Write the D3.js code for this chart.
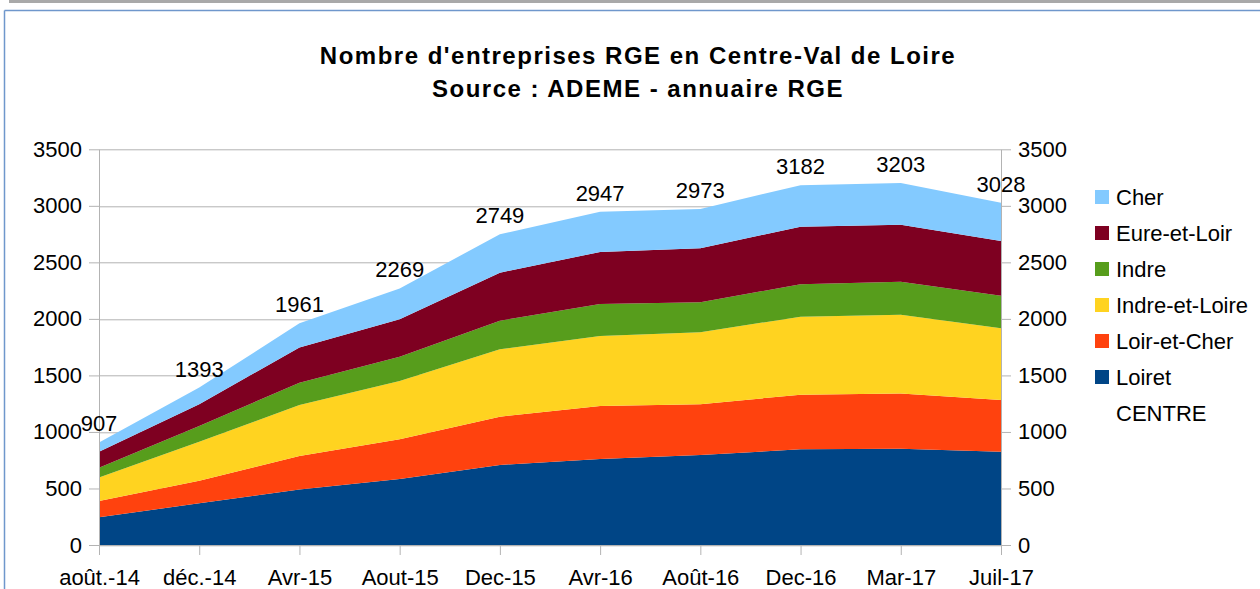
<!DOCTYPE html>
<html lang="fr">
<head>
<meta charset="UTF-8">
<title>Nombre d'entreprises RGE en Centre-Val de Loire</title>
<script src="https://d3js.org/d3.v7.min.js"></script>
<style>
  body { margin: 0; background: #fff; }
  svg text { font-family: "Liberation Sans", Arial, sans-serif; fill: #000; }
</style>
</head>
<body>
<div id="chart"></div>
<script>
// periods on the x axis
const months = ["août.-14", "déc.-14", "Avr-15", "Aout-15", "Dec-15", "Avr-16", "Août-16", "Dec-16", "Mar-17", "Juil-17"];

// companies per department
const loiret       = [245, 369, 492, 584, 708, 761, 796, 846, 852, 825];
const loirEtCher   = [144, 200, 295, 351, 427, 468, 448, 484, 489, 458];
const indreEtLoire = [207, 345, 451, 516, 596, 620, 637, 690, 696, 634];
const indre        = [88, 139, 198, 215, 253, 283, 266, 286, 292, 288];
const eureEtLoir   = [141, 191, 312, 330, 425, 460, 477, 510, 504, 484];
const cher         = [82, 149, 213, 273, 340, 355, 349, 366, 370, 339];
// regional total, shown only as labels
const centre       = [907, 1393, 1961, 2269, 2749, 2947, 2973, 3182, 3203, 3028];

const yTicks = [0, 500, 1000, 1500, 2000, 2500, 3000, 3500];

// stacked bottom to top
const series = [
  { name: "Loiret", values: loiret, color: "#004586" },
  { name: "Loir-et-Cher", values: loirEtCher, color: "#ff420e" },
  { name: "Indre-et-Loire", values: indreEtLoire, color: "#ffd320" },
  { name: "Indre", values: indre, color: "#579d1c" },
  { name: "Eure-et-Loir", values: eureEtLoir, color: "#7e0021" },
  { name: "Cher", values: cher, color: "#83caff" }
];

const W = 1260, H = 589;
const margin = { top: 149.3, right: 259, bottom: 44, left: 99 };
const width = W - margin.left - margin.right;
const height = H - margin.top - margin.bottom;

const svg = d3.select("#chart").append("svg")
  .attr("width", W)
  .attr("height", H);

// window frame bits
svg.append("rect").attr("x", 9).attr("y", 0).attr("width", W - 9).attr("height", 3).attr("fill", "#a9a9a9");
svg.append("line").attr("x1", 4.5).attr("x2", W).attr("y1", 10.5).attr("y2", 10.5).attr("stroke", "#6f97cc").attr("stroke-width", 1.5);
svg.append("line").attr("x1", 4.5).attr("x2", 4.5).attr("y1", 10.5).attr("y2", H).attr("stroke", "#6f97cc").attr("stroke-width", 1.5);

// title
svg.append("text").attr("x", 638).attr("y", 63.5).attr("text-anchor", "middle")
  .style("font-size", "24px").style("font-weight", "bold").style("letter-spacing", "1.5px")
  .text("Nombre d'entreprises RGE en Centre-Val de Loire");
svg.append("text").attr("x", 638).attr("y", 97).attr("text-anchor", "middle")
  .style("font-size", "24px").style("font-weight", "bold").style("letter-spacing", "1.5px")
  .text("Source : ADEME - annuaire RGE");

const g = svg.append("g").attr("transform", `translate(${margin.left},${margin.top})`);

const x = d3.scalePoint().domain(months).range([0, width]);
const y = d3.scaleLinear().domain([0, 3500]).range([height, 0]);

// grid
g.append("g").selectAll("line").data(yTicks).join("line")
  .attr("x1", 0).attr("x2", width)
  .attr("y1", d => Math.round(y(d)) + 0.5).attr("y2", d => Math.round(y(d)) + 0.5)
  .attr("stroke", "#b3b3b3");

// stack
const table = months.map((m, i) => {
  const row = { month: m };
  series.forEach(s => row[s.name] = s.values[i]);
  return row;
});
const stacked = d3.stack().keys(series.map(s => s.name))(table);

const area = d3.area()
  .x(d => x(d.data.month))
  .y0(d => y(d[0]))
  .y1(d => y(d[1]));

g.append("g").selectAll("path").data(stacked).join("path")
  .attr("fill", (d, i) => series[i].color)
  .attr("d", area);

// axes
function styleAxis(sel) {
  sel.select(".domain").attr("stroke", "#b3b3b3");
  sel.selectAll(".tick line").attr("stroke", "#b3b3b3");
  sel.selectAll(".tick text").style("font-size", "22px").attr("fill", "#000");
}

g.append("g")
  .call(d3.axisLeft(y).tickValues(yTicks).tickFormat(d3.format("d")).tickSize(10).tickSizeOuter(0).tickPadding(7))
  .call(styleAxis);

g.append("g").attr("transform", `translate(${width},0)`)
  .call(d3.axisRight(y).tickValues(yTicks).tickFormat(d3.format("d")).tickSize(10).tickSizeOuter(0).tickPadding(7))
  .call(styleAxis);

g.append("g").attr("transform", `translate(0,${height})`)
  .call(d3.axisBottom(x).tickSize(10).tickSizeOuter(0).tickPadding(14))
  .call(styleAxis);

// total labels
g.append("g").selectAll("text").data(centre).join("text")
  .attr("x", (d, i) => x(months[i]))
  .attr("y", d => y(d) - 11)
  .attr("text-anchor", "middle")
  .style("font-size", "22px")
  .text(d => d);

// legend
const legendItems = series.slice().reverse().concat([{ name: "CENTRE", color: null }]);
const legend = svg.append("g").attr("transform", "translate(1095,197)");
legendItems.forEach((s, i) => {
  const row = legend.append("g").attr("transform", `translate(0,${i * 36})`);
  if (s.color) {
    row.append("rect").attr("x", 0).attr("y", -7).attr("width", 14).attr("height", 14).attr("fill", s.color);
  }
  row.append("text").attr("x", 21).attr("y", 8).style("font-size", "22px").text(s.name);
});
</script>
</body>
</html>
